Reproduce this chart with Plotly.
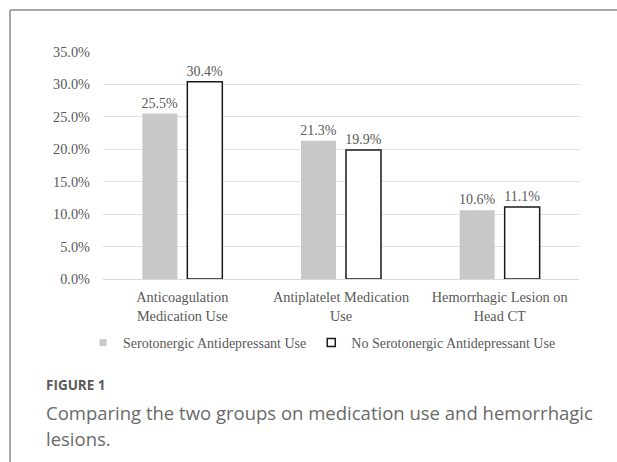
import plotly.graph_objects as go

categories = ["Anticoagulation<br>Medication Use", "Antiplatelet Medication<br>Use", "Hemorrhagic Lesion on<br>Head CT"]
series_names = ["Serotonergic Antidepressant Use", "No Serotonergic Antidepressant Use"]
serotonergic = [0.255, 0.213, 0.106]
no_serotonergic = [0.304, 0.199, 0.111]
y_ticks = [0, 0.05, 0.10, 0.15, 0.20, 0.25, 0.30, 0.35]

W, H = 617, 462
L, R, T, B = 103, 579, 52, 279
pw, ph = R - L, B - T

def px(x):
    return (x - L) / pw

def py(y):
    return (B - y) / ph

serif = "Liberation Serif, Times New Roman, serif"
txt_col = "#595959"
gray = "#c8c8c8"

fig = go.Figure()
fig.add_trace(go.Bar(
    x=categories, y=serotonergic, name=series_names[0], showlegend=False,
    marker=dict(color=gray, line=dict(width=0)),
    text=[f"{v*100:.1f}%" for v in serotonergic], textposition="outside",
    constraintext="none",
    textfont=dict(family=serif, size=14, color=txt_col), cliponaxis=False,
))
fig.add_trace(go.Bar(
    x=categories, y=no_serotonergic, name=series_names[1], showlegend=False,
    marker=dict(color="white", line=dict(width=1.5, color="#1a1a1a")),
    text=[f"{v*100:.1f}%" for v in no_serotonergic], textposition="outside",
    constraintext="none",
    textfont=dict(family=serif, size=14, color=txt_col), cliponaxis=False,
))
# legend entries
fig.add_trace(go.Scatter(x=[None], y=[None], mode="markers", name=series_names[0],
                         marker=dict(symbol="square", size=7, color=gray)))
fig.add_trace(go.Scatter(x=[None], y=[None], mode="markers", name=series_names[1],
                         marker=dict(symbol="square", size=8, color="white",
                                     line=dict(width=1.5, color="#1a1a1a"))))

fig.update_layout(
    width=W, height=H,
    margin=dict(l=L, r=W - R, t=T, b=H - B),
    paper_bgcolor="white", plot_bgcolor="white",
    barmode="group", bargap=0.433, bargroupgap=0.222,
    font=dict(family=serif, size=14, color=txt_col),
    legend=dict(orientation="h", x=px(322), xanchor="center", y=py(343), yanchor="middle",
                font=dict(family=serif, size=14, color=txt_col), itemwidth=30,
                bgcolor="rgba(0,0,0,0)"),
    xaxis=dict(showgrid=False, showline=False, ticks="", zeroline=False,
               ticklabelstandoff=8,
               tickfont=dict(family=serif, size=14.3, color=txt_col)),
    yaxis=dict(range=[0, 0.35], tickvals=y_ticks, tickformat=".1%", showgrid=True,
               gridcolor="#e0e0e0", gridwidth=1, zeroline=True, zerolinecolor="#d9d9d9",
               zerolinewidth=1, showline=False, ticks="", ticklabelstandoff=12,
               tickfont=dict(family=serif, size=14.3, color=txt_col)),
    showlegend=True,
)

# figure frame (top and left lines)
fig.add_shape(type="line", xref="paper", yref="paper", x0=px(10), x1=px(617), y0=py(10), y1=py(10),
              line=dict(color="#8a8a8a", width=1.5))
fig.add_shape(type="line", xref="paper", yref="paper", x0=px(10), x1=px(10), y0=py(10), y1=py(462),
              line=dict(color="#8a8a8a", width=1.5))

sans = "Open Sans, Noto Sans, sans-serif"
fig.add_annotation(text="<b>FIGURE 1</b>", xref="paper", yref="paper", x=px(44), y=py(384.5),
                   xanchor="left", yanchor="middle", showarrow=False,
                   font=dict(family=sans, size=13.5, color="#5a5a5a"))
fig.add_annotation(text="Comparing the two groups on medication use and hemorrhagic",
                   xref="paper", yref="paper", x=px(44), y=py(412),
                   xanchor="left", yanchor="middle", showarrow=False,
                   font=dict(family=sans, size=18.5, color="#6a6a6a"))
fig.add_annotation(text="lesions.", xref="paper", yref="paper", x=px(44), y=py(438),
                   xanchor="left", yanchor="middle", showarrow=False,
                   font=dict(family=sans, size=18.5, color="#6a6a6a"))

fig.write_html("out.html", config={"displayModeBar": False},
               post_script="document.body.style.margin='0';document.body.style.overflow='hidden';")
